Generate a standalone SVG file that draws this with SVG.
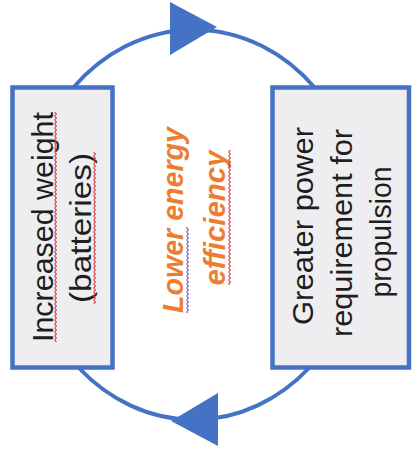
<svg xmlns="http://www.w3.org/2000/svg" width="412" height="466" viewBox="0 0 412 466">
  <style>
    .box { fill: #EEEEF0; stroke: #4472C4; stroke-width: 4.5; }
    .arc { fill: none; stroke: #4472C4; stroke-width: 4; }
    .head { fill: #4472C4; }
    .label { font-family: "Liberation Sans", Arial, sans-serif; font-size: 29px; fill: #1E1E1E; text-anchor: middle; }
    .note { font-family: "Liberation Sans", Arial, sans-serif; font-size: 29px; font-weight: bold; font-style: italic; fill: #ED7D31; text-anchor: middle; }
  </style>
  <defs>
    <!-- arrowhead pointing along +x, base on the origin -->
    <path id="tri" d="M0,-26.5 L47,-1.5 L0,26.5 Z"/>
    <!-- wavy proofing underline, tiled along the text direction -->
    <pattern id="wavyRed" patternUnits="userSpaceOnUse" width="4" height="3">
      <path d="M0,0.6 L2,2.4 L4,0.6" fill="none" stroke="#E03A3A" stroke-width="1.1"/>
    </pattern>
    <pattern id="wavyBlue" patternUnits="userSpaceOnUse" width="4" height="3">
      <path d="M0,0.6 L2,2.4 L4,0.6" fill="none" stroke="#7A5AB0" stroke-width="1.1"/>
    </pattern>
  </defs>

  <rect width="412" height="466" fill="#FFFFFF"/>

  <!-- feedback loop connectors -->
  <g id="connectors">
    <path class="arc" d="M73,88 A170,196 0 0 1 315,88"/>
    <path class="arc" d="M309,368 A170,196 0 0 1 79,368"/>
    <use href="#tri" class="head" transform="translate(170,28.5)"/>
    <use href="#tri" class="head" transform="translate(218,419.5) rotate(180)"/>
  </g>

  <!-- left node -->
  <g id="node-weight">
    <rect class="box" x="12.5" y="87.5" width="100" height="280"/>
    <g transform="rotate(-90)">
      <text class="label" x="-227" y="53" textLength="230" lengthAdjust="spacingAndGlyphs">Increased weight</text>
      <text class="label" x="-228" y="91" textLength="150" lengthAdjust="spacingAndGlyphs">(batteries)</text>
      <rect x="-342" y="54" width="230" height="3" fill="url(#wavyRed)"/>
      <rect x="-304" y="93" width="152" height="3" fill="url(#wavyRed)"/>
    </g>
  </g>

  <!-- right node -->
  <g id="node-power">
    <rect class="box" x="272.5" y="87.5" width="136.5" height="280"/>
    <g transform="rotate(-90)">
      <text class="label" x="-226" y="313" textLength="198" lengthAdjust="spacingAndGlyphs">Greater power</text>
      <text class="label" x="-233" y="352" textLength="208" lengthAdjust="spacingAndGlyphs">requirement for</text>
      <text class="label" x="-232" y="391" textLength="131" lengthAdjust="spacingAndGlyphs">propulsion</text>
    </g>
  </g>

  <!-- centre annotation -->
  <g id="node-efficiency">
    <g transform="rotate(-90)">
      <text class="note" x="-220" y="183" textLength="186" lengthAdjust="spacingAndGlyphs">Lower energy</text>
      <text class="note" x="-218" y="225" textLength="135" lengthAdjust="spacingAndGlyphs">efficiency</text>
      <rect x="-313" y="186" width="86" height="3" fill="url(#wavyBlue)"/>
      <rect x="-285" y="228" width="135" height="3" fill="url(#wavyRed)"/>
    </g>
  </g>
</svg>
